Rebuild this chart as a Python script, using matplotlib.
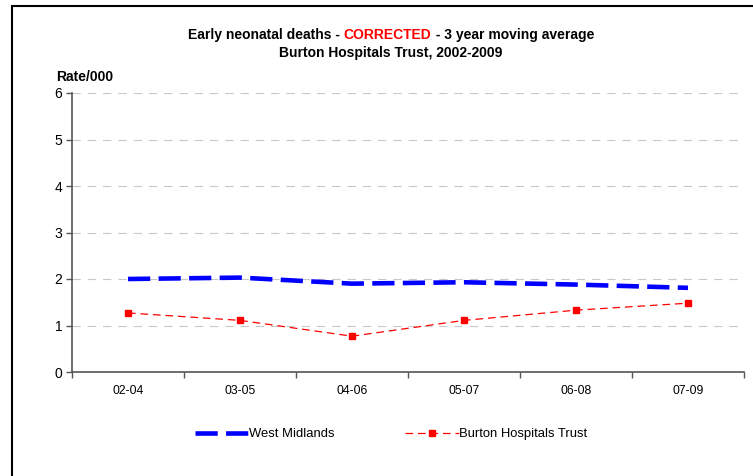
import matplotlib
matplotlib.use("Agg")
import matplotlib.pyplot as plt
from matplotlib.patches import Rectangle

plt.rcParams['font.family'] = ['Liberation Sans', 'DejaVu Sans']
plt.rcParams['lines.scale_dashes'] = False

categories = ["02-04", "03-05", "04-06", "05-07", "06-08", "07-09"]
west_midlands = [2.00, 2.03, 1.90, 1.93, 1.88, 1.81]
burton = [1.27, 1.11, 0.77, 1.11, 1.33, 1.48]
y_ticks = [0, 1, 2, 3, 4, 5, 6]

W, H = 753, 476
fig = plt.figure(figsize=(W / 100, H / 100), dpi=100)
ax = fig.add_axes([72 / W, 1 - 372 / H, (744 - 72) / W, (372 - 93) / H])

x = list(range(len(categories)))
ax.plot(x, west_midlands, color='#0000FF', linewidth=3.3, dashes=(16, 6),
        label='West Midlands', solid_capstyle='butt', dash_capstyle='butt')
ax.plot(x, burton, color='#FF0000', linewidth=0.9, dashes=(5.5, 3.5),
        marker='s', markersize=4.5, markeredgecolor='#FF0000', markerfacecolor='#FF0000',
        label='Burton Hospitals Trust')

ax.set_xlim(-0.5, len(categories) - 0.5)
ax.set_ylim(0, 6)
ax.set_yticks(y_ticks)
ax.set_yticklabels([str(v) for v in y_ticks], fontsize=10)
ax.set_xticks(x)
ax.set_xticklabels(categories, fontsize=8.8)
ax.set_xticks([i - 0.5 for i in range(len(categories) + 1)], minor=True)
ax.tick_params(axis='x', which='major', length=0, pad=9)
ax.tick_params(axis='x', which='minor', length=4, direction='out', color='#555555', width=1)
ax.tick_params(axis='y', length=4, direction='out', color='#555555', width=1, pad=3)

ax.yaxis.grid(True, color='#C8C8C8', linestyle=(0, (6, 5)), linewidth=0.8)
ax.set_axisbelow(True)
for s in ['top', 'right']:
    ax.spines[s].set_visible(False)
for s in ['left', 'bottom']:
    ax.spines[s].set_color('#555555')
    ax.spines[s].set_linewidth(1.2)

# Title line 1 with red word
t1a = 'Early neonatal deaths - '
t1b = 'CORRECTED'
t1c = ' - 3 year moving average'
fig.canvas.draw()
r = fig.canvas.get_renderer()
parts = []
for s, c in [(t1a, 'black'), (t1b, '#FF0000'), (t1c, 'black')]:
    tt = fig.text(0, 1 - 35 / H, s, ha='left', va='center', fontsize=10, fontweight='bold', color=c)
    parts.append(tt)
widths = [p.get_window_extent(r).width for p in parts]
total = sum(widths)
xs = 391 - total / 2
for p, w in zip(parts, widths):
    p.set_x(xs / W)
    xs += w
fig.text(391 / W, 1 - 53 / H, 'Burton Hospitals Trust, 2002-2009', ha='center', va='center',
         fontsize=10, fontweight='bold')
fig.text(56 / W, 1 - 77 / H, 'Rate/000', ha='left', va='center', fontsize=10, fontweight='bold')

leg = fig.legend(loc='center left', bbox_to_anchor=(195 / W, 1 - 434 / H), ncol=2, frameon=False,
                 fontsize=9.4, handlelength=4.1, handletextpad=0.05, columnspacing=5.4,
                 borderaxespad=0, borderpad=0)

fig.patches.append(Rectangle((12 / W, -0.05), 1.2, 1 - 6 / H + 0.05, transform=fig.transFigure,
                             fill=False, edgecolor='black', linewidth=1.5))

fig.savefig('out.png', dpi=100)
